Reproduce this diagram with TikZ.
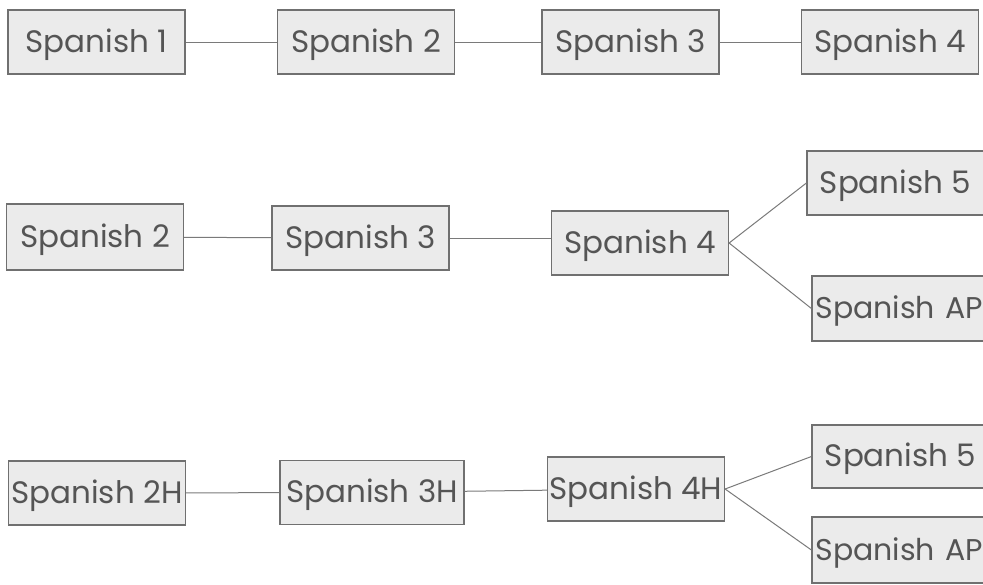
\documentclass[tikz,border=0pt]{standalone}
\usepackage{fontspec}
\setmainfont{Poppins}
\usepackage{tikz}
\usetikzlibrary{positioning}
\definecolor{boxfill}{HTML}{EBEBEB}
\definecolor{boxline}{HTML}{707070}
\definecolor{inkgray}{HTML}{555555}
\definecolor{linkgray}{HTML}{7A7A7A}
\begin{document}
\begin{tikzpicture}[x=1pt, y=-1pt,
  course/.style={draw=boxline, fill=boxfill, line width=1.2pt, minimum width=177pt, minimum height=64pt, inner sep=0pt, text height=24pt, text depth=4pt, text=inkgray, font=\fontsize{31}{35}\selectfont},
  apcourse/.style={course, text width=170pt, align=left, font=\fontsize{30}{34}\selectfont},
  link/.style={draw=linkgray, line width=1pt}]
\useasboundingbox[fill=white] (0,0) rectangle (983,584);
% first track
\node[course] (a1) at (96.5,42) {Spanish 1};
\node[course] (a2) at (366,42) {Spanish 2};
\node[course] (a3) at (630.5,42) {Spanish 3};
\node[course] (a4) at (890,42) {Spanish 4};
\draw[link] (a1) -- (a2);
\draw[link] (a2) -- (a3);
\draw[link] (a3) -- (a4);
% second track
\node[course, minimum height=66pt] (b2) at (95,237) {Spanish 2};
\node[course] (b3) at (360.5,238) {Spanish 3};
\node[course] (b4) at (640,243) {Spanish 4};
\node[course] (b5) at (895.5,183) {Spanish 5};
\node[apcourse, minimum height=65pt] (bap) at (900.5,308.5) {Spanish AP};
\draw[link] (b2) -- (b3);
\draw[link] (b3.east) -- (b3.east -| b4.west);
\draw[link] (b4.east) -- (b5.west);
\draw[link] (b4.east) -- (bap.west);
% honors track
\node[course] (c2) at (97,493) {Spanish 2H};
\node[course, minimum width=184pt] (c3) at (372,492.5) {Spanish 3H};
\node[course] (c4) at (636,489) {Spanish 4H};
\node[course, minimum height=63pt] (c5) at (900.5,456.5) {Spanish 5};
\node[apcourse, minimum height=66pt] (cap) at (900.5,550) {Spanish AP};
\draw[link] (c2) -- (c3);
\draw[link] (c3) -- (c4);
\draw[link] (c4.east) -- (c5.west);
\draw[link] (c4.east) -- (cap.west);
\end{tikzpicture}
\end{document}
